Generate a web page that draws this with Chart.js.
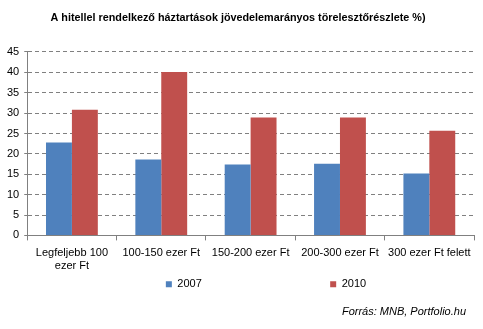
<!DOCTYPE html>
<html>
<head>
<meta charset="utf-8">
<script src="https://cdn.jsdelivr.net/npm/chart.js@4"></script>
<style>
    html, body { margin: 0; padding: 0; background: #fff; }
    #wrap { width: 483px; height: 329px; position: relative; }
</style>
</head>
<body>
<div id="wrap"><canvas id="chart"></canvas></div>
<script>
const categories = [['Legfeljebb 100', 'ezer Ft'], '100-150 ezer Ft', '150-200 ezer Ft', '200-300 ezer Ft', '300 ezer Ft felett'];
const values2007 = [22.8, 18.6, 17.4, 17.6, 15.2];
const values2010 = [30.8, 40.1, 28.9, 28.9, 25.7];
const yTicks = [0, 5, 10, 15, 20, 25, 30, 35, 40, 45];
const sourceText = 'Forrás: MNB, Portfolio.hu';

const fontFamily = '"Liberation Sans", Arial, sans-serif';

// the original spreads legend items and the source line differently than Chart.js does
const boxNudge = {
    id: 'boxNudge',
    afterLayout(chart) {
        chart.legend.left += 28;
        chart.legend.right += 28;
        chart.boxes.forEach(function (box) {
            if (box.options && box.options.text === sourceText) {
                box.right -= 8;
            }
        });
    }
};

const config = {
    type: 'bar',
    data: {
        labels: categories,
        datasets: [
            {
                label: '2007',
                data: values2007,
                backgroundColor: '#4F81BD',
                categoryPercentage: 0.58,
                barPercentage: 1.0,
            },
            {
                label: '2010',
                data: values2010,
                backgroundColor: '#C0504D',
                categoryPercentage: 0.58,
                barPercentage: 1.0,
            },
        ],
    },
    options: {
        responsive: true,
        maintainAspectRatio: false,
        animation: false,
        layout: {
            padding: { left: 2, right: 9, top: 0, bottom: 10 },
        },
        plugins: {
            title: {
                display: true,
                text: 'A hitellel rendelkező háztartások jövedelemarányos törelesztőrészlete %)',
                color: '#000',
                font: { family: fontFamily, size: 10.8, weight: 'bold' },
                padding: { top: 12, bottom: 27 },
            },
            subtitle: {
                display: true,
                position: 'bottom',
                align: 'end',
                text: sourceText,
                color: '#000',
                font: { family: fontFamily, size: 11, style: 'italic' },
                padding: { top: 6, bottom: 0 },
            },
            legend: {
                position: 'bottom',
                labels: {
                    boxWidth: 6,
                    boxHeight: 6,
                    padding: 0,
                    color: '#000',
                    font: { family: fontFamily, size: 11 },
                    generateLabels(chart) {
                        const items = Chart.defaults.plugins.legend.labels.generateLabels(chart);
                        // trailing spaces push the second entry far to the right
                        items[0].text = items[0].text + ' '.repeat(42);
                        return items;
                    },
                },
            },
            tooltip: { enabled: false },
        },
        scales: {
            x: {
                grid: {
                    drawOnChartArea: false,
                    drawTicks: true,
                    tickLength: 5,
                    color: '#808080',
                },
                border: { color: '#808080' },
                ticks: {
                    color: '#000',
                    font: { family: fontFamily, size: 11 },
                    maxRotation: 0,
                    autoSkip: false,
                    padding: 6,
                },
            },
            y: {
                min: 0,
                max: 45,
                afterBuildTicks(scale) {
                    scale.ticks = yTicks.map(v => ({ value: v }));
                },
                grid: {
                    color: '#808080',
                    tickLength: 3,
                },
                border: { color: '#808080', dash: [4, 3] },
                ticks: {
                    color: '#000',
                    font: { family: fontFamily, size: 11 },
                    padding: 5,
                    autoSkip: false,
                },
            },
        },
    },
    plugins: [boxNudge],
};

new Chart(document.getElementById('chart').getContext('2d'), config);
</script>
</body>
</html>
